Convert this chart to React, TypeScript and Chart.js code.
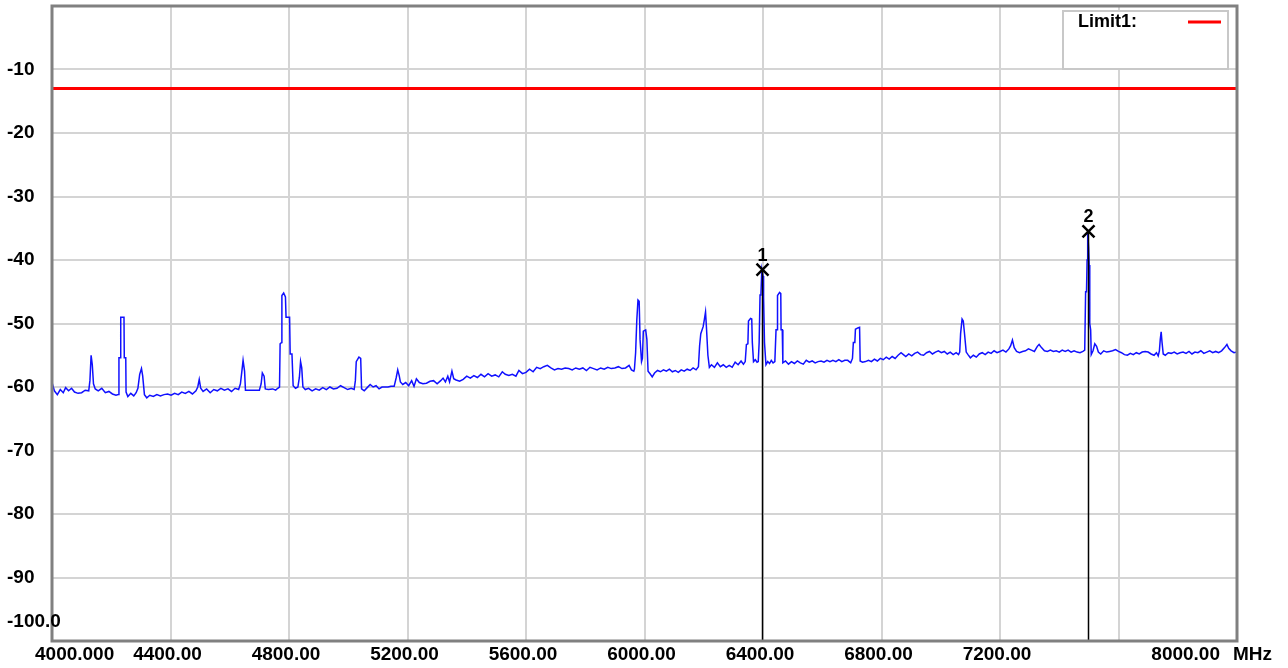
import { useEffect, useRef } from 'react';
import { Chart, registerables } from 'chart.js';

Chart.register(...registerables);

// Spectrum trace: [frequency MHz, level dB]
const trace: [number, number][] = [
  [4000, -59.3], [4008, -60.6], [4018, -61.2], [4028, -60.4], [4038, -60.9], [4046, -60.1], [4056, -60.6], [4066, -60.2], [4076, -60.8], [4088, -61.0], [4100, -60.9], [4112, -60.5], [4124, -60.6],
  [4128, -59.0], [4132, -55.0], [4136, -56.5], [4140, -59.5], [4146, -60.3],
  [4156, -60.6], [4168, -60.2], [4180, -60.9], [4192, -60.7], [4204, -61.1], [4216, -61.3],
  [4224, -61.2], [4226, -55.4], [4231, -55.4], [4232, -49.0], [4243, -49.0], [4244, -55.4], [4249, -55.4], [4250, -60.8],
  [4256, -61.5], [4266, -61.0], [4276, -61.4], [4284, -60.9],
  [4290, -60.2], [4296, -58.0], [4302, -57.1], [4306, -58.2], [4312, -61.2],
  [4320, -61.7], [4330, -61.3], [4342, -61.5], [4354, -61.2], [4366, -61.4], [4378, -61.2], [4390, -61.1], [4402, -61.3], [4414, -61.0], [4426, -61.2], [4438, -60.8], [4450, -61.0], [4462, -60.7], [4474, -61.1], [4486, -60.6],
  [4492, -60.0], [4497, -58.8], [4502, -60.2],
  [4510, -60.7], [4522, -60.3], [4534, -60.9], [4546, -60.4], [4558, -60.6], [4570, -60.2], [4582, -60.5], [4594, -60.3], [4606, -60.7], [4618, -60.2], [4630, -60.4],
  [4636, -59.5], [4640, -57.9], [4645, -55.8], [4650, -57.5], [4653, -60.5], [4700, -60.5],
  [4706, -59.5], [4710, -57.8], [4716, -58.3], [4720, -60.3],
  [4730, -60.4], [4745, -60.3], [4755, -60.5], [4762, -60.2],
  [4768, -60.0], [4770, -53.2], [4775, -53.0], [4776, -45.6], [4782, -45.2], [4788, -45.8], [4790, -49.0], [4802, -49.0], [4804, -54.8], [4810, -54.8], [4814, -59.8],
  [4822, -60.2], [4830, -60.0],
  [4835, -58.5], [4839, -56.0], [4843, -57.0], [4847, -60.0],
  [4855, -60.4], [4866, -60.2], [4878, -60.6], [4890, -60.3], [4902, -60.5], [4914, -60.1], [4926, -60.4], [4938, -60.0], [4950, -60.3], [4962, -60.2], [4974, -59.8], [4986, -60.1], [4998, -60.4], [5010, -60.2], [5020, -60.4],
  [5024, -59.0], [5027, -56.0], [5032, -55.6], [5036, -55.3], [5042, -55.5], [5045, -60.3],
  [5054, -60.6], [5064, -60.1], [5074, -59.6], [5084, -60.0], [5094, -59.8], [5104, -60.3], [5114, -60.0], [5124, -60.0], [5134, -60.0], [5144, -59.9], [5155, -59.9],
  [5162, -58.5], [5167, -57.3], [5172, -58.2], [5176, -59.2],
  [5184, -59.6], [5194, -59.3], [5204, -59.8], [5214, -59.0], [5222, -59.9], [5230, -58.7], [5240, -59.3], [5252, -59.5], [5264, -59.4], [5276, -59.1], [5288, -59.0], [5300, -59.5], [5312, -59.0], [5320, -58.6], [5328, -59.2], [5336, -58.3], [5342, -59.2], [5350, -57.5], [5356, -58.7], [5364, -58.9], [5376, -59.1], [5388, -58.8],
  [5400, -58.3], [5412, -58.6], [5424, -58.2], [5436, -58.5], [5448, -58.0], [5460, -58.4], [5472, -57.9], [5484, -58.3], [5496, -58.1], [5508, -58.4], [5520, -57.6], [5530, -58.0], [5542, -58.2], [5554, -58.0], [5566, -58.3], [5576, -57.4], [5588, -57.9],
  [5600, -57.7], [5612, -57.2], [5624, -57.6], [5636, -56.9], [5648, -57.1], [5660, -56.8], [5672, -56.6], [5684, -57.0], [5696, -57.3], [5708, -57.1], [5720, -57.2], [5732, -57.0], [5744, -57.1], [5756, -57.3], [5768, -57.0], [5780, -57.2], [5792, -57.0],
  [5804, -57.4], [5816, -56.9], [5828, -57.1], [5840, -57.3], [5852, -57.0], [5864, -57.2], [5876, -56.9], [5888, -57.1], [5900, -57.0], [5912, -56.8], [5924, -57.1], [5936, -57.0], [5948, -56.6], [5956, -57.3], [5964, -57.5],
  [5966, -57.2], [5970, -54.6], [5974, -49.5], [5978, -46.3], [5982, -46.5], [5985, -52.5], [5990, -56.0], [5993, -55.5], [5996, -51.2], [6004, -51.0], [6008, -52.5], [6012, -57.5], [6020, -58.0], [6026, -58.4],
  [6034, -57.8], [6044, -57.4], [6054, -57.6], [6064, -57.3], [6074, -57.5], [6084, -57.2], [6094, -57.6], [6104, -57.4], [6114, -57.7], [6124, -57.3], [6134, -57.5], [6144, -57.2], [6154, -57.4], [6164, -57.0], [6174, -57.3],
  [6182, -56.8], [6186, -53.5], [6190, -51.6], [6198, -50.5], [6202, -49.4], [6206, -48.2], [6209, -50.5], [6214, -55.0], [6219, -56.9],
  [6226, -56.5], [6236, -56.9], [6246, -56.2], [6256, -56.8], [6266, -56.5], [6276, -56.9], [6286, -56.6], [6296, -56.9], [6306, -56.1], [6316, -56.5], [6326, -55.9], [6334, -56.4],
  [6340, -56.0], [6344, -53.3], [6349, -53.2], [6351, -49.6], [6358, -49.2], [6362, -49.3], [6364, -53.0], [6368, -56.0],
  [6374, -55.7], [6380, -56.1],
  [6384, -56.0], [6387, -53.0], [6390, -45.5], [6393, -45.3], [6396, -41.5], [6400, -42.5], [6402, -46.0], [6405, -53.0], [6410, -56.5],
  [6416, -56.0], [6422, -56.3], [6428, -55.8], [6434, -56.2],
  [6440, -56.0], [6444, -51.0], [6448, -51.0], [6449, -45.6], [6456, -45.1], [6460, -45.3], [6461, -51.0], [6465, -51.0], [6467, -56.2],
  [6476, -55.9], [6486, -56.4], [6496, -56.0], [6506, -56.3], [6516, -55.9], [6526, -56.2], [6536, -56.4], [6546, -55.8], [6556, -56.1], [6566, -55.9], [6576, -56.2], [6586, -56.0], [6596, -55.9], [6606, -56.1], [6616, -55.8], [6626, -56.0], [6636, -55.8], [6646, -56.0], [6656, -55.7], [6666, -56.0], [6676, -55.8], [6686, -55.8], [6696, -56.2],
  [6702, -55.5], [6705, -53.0], [6710, -53.0], [6712, -50.9], [6720, -50.7], [6726, -50.6], [6728, -55.9],
  [6736, -56.1], [6746, -56.0], [6756, -55.8], [6766, -56.0], [6776, -55.6], [6786, -55.9], [6796, -55.5], [6806, -55.7], [6816, -55.3], [6826, -55.6], [6836, -55.2], [6846, -55.5], [6856, -55.0], [6866, -54.6], [6874, -54.9], [6882, -55.2], [6892, -54.8],
  [6902, -55.1], [6912, -54.7], [6922, -54.5], [6932, -54.9], [6942, -55.0], [6952, -54.6], [6962, -54.4], [6972, -54.8], [6982, -54.5], [6992, -54.3], [7002, -54.6], [7012, -54.4], [7022, -54.8], [7032, -54.5], [7042, -54.9], [7052, -54.6], [7060, -54.9],
  [7064, -54.5], [7067, -51.6], [7072, -49.3], [7076, -49.6], [7080, -51.5], [7086, -54.5], [7092, -54.9],
  [7100, -55.4], [7110, -55.0], [7120, -55.3], [7130, -54.8], [7140, -54.6], [7150, -54.9], [7160, -54.5], [7170, -54.7], [7180, -54.3], [7190, -54.6], [7200, -54.4], [7210, -54.2], [7220, -54.5], [7230, -54.0], [7236, -53.5], [7242, -52.6], [7248, -53.8],
  [7256, -54.4], [7266, -54.6], [7276, -54.4], [7286, -54.3], [7296, -54.0], [7306, -54.2], [7316, -54.4], [7326, -53.6], [7332, -53.3], [7340, -53.8], [7350, -54.3], [7360, -54.4], [7370, -54.2], [7380, -54.4], [7390, -54.3],
  [7400, -54.5], [7410, -54.2], [7420, -54.4], [7430, -54.2], [7440, -54.5], [7450, -54.3], [7460, -54.5], [7470, -54.6], [7480, -54.4],
  [7486, -54.2], [7489, -45.0], [7492, -45.0], [7494, -40.0], [7496, -35.5], [7499, -38.0], [7501, -40.8], [7503, -50.0], [7506, -51.0], [7508, -54.9],
  [7514, -54.3], [7520, -53.2], [7526, -53.6], [7532, -54.5], [7540, -54.8], [7550, -54.3], [7560, -54.5], [7570, -54.4], [7580, -54.3], [7590, -54.1],
  [7600, -54.4], [7610, -54.6], [7620, -54.9], [7630, -55.0], [7640, -54.7], [7650, -54.9], [7660, -54.6], [7670, -54.8], [7680, -54.5], [7690, -54.4], [7700, -54.5], [7710, -54.8], [7720, -55.0], [7728, -54.6], [7734, -55.1], [7738, -54.3],
  [7741, -52.5], [7744, -51.3], [7747, -53.0], [7751, -54.8],
  [7758, -55.0], [7768, -54.6], [7778, -54.7], [7788, -54.5], [7798, -54.8], [7808, -54.6], [7818, -54.5], [7828, -54.7], [7838, -54.4], [7848, -54.8], [7858, -54.5], [7868, -54.6], [7878, -54.3], [7888, -54.7], [7898, -54.5],
  [7908, -54.3], [7918, -54.6], [7928, -54.4], [7938, -54.6], [7948, -54.3], [7958, -53.8], [7966, -53.3], [7972, -53.9], [7980, -54.3], [7990, -54.6], [8000, -54.5],
];

const xMin = 4000;
const xMax = 8000;
const xTicks = [4000, 4400, 4800, 5200, 5600, 6000, 6400, 6800, 7200, 7600, 8000];
const xTickLabels = ['4000.000', '4400.00', '4800.00', '5200.00', '5600.00', '6000.00', '6400.00', '6800.00', '7200.00', '', '8000.00'];
const xUnit = 'MHz';

const yMin = -100;
const yMax = 0;
const yTicks = [-10, -20, -30, -40, -50, -60, -70, -80, -90, -100];
const yTickLabels = ['-10', '-20', '-30', '-40', '-50', '-60', '-70', '-80', '-90', '-100.0'];

const limitName = 'Limit1:';
const limitLevel = -13;

const markerNames = ['1', '2'];
const markerFreqs = [6396, 7496];
const markerLevels = [-41.5, -35.5];

const FONT = '"Liberation Sans", Arial, sans-serif';

const overlayPlugin = {
  id: 'overlay',
  afterDatasetsDraw(chart: any) {
    const { ctx, chartArea: a, scales } = chart;
    const x = scales.x;
    const y = scales.y;
    ctx.save();

    // markers
    markerFreqs.forEach((f, i) => {
      const px = Math.round(x.getPixelForValue(f)) + 0.5;
      const py = y.getPixelForValue(markerLevels[i]);
      ctx.strokeStyle = '#000';
      ctx.lineWidth = 1.5;
      ctx.beginPath();
      ctx.moveTo(px, py);
      ctx.lineTo(px, a.bottom);
      ctx.stroke();
      const s = 6;
      ctx.lineWidth = 2.5;
      ctx.beginPath();
      ctx.moveTo(px - s, py - s);
      ctx.lineTo(px + s, py + s);
      ctx.moveTo(px + s, py - s);
      ctx.lineTo(px - s, py + s);
      ctx.stroke();
      ctx.fillStyle = '#000';
      ctx.font = `bold 18px ${FONT}`;
      ctx.textAlign = 'center';
      ctx.textBaseline = 'alphabetic';
      ctx.fillText(markerNames[i], px, py - 9);
    });

    // frame
    ctx.strokeStyle = '#808080';
    ctx.lineWidth = 3;
    ctx.strokeRect(a.left, a.top, a.right - a.left, a.bottom - a.top);

    // legend box
    const bx = a.right - 174;
    const by = a.top + 5;
    const bw = 165;
    const bh = 58;
    ctx.fillStyle = '#fff';
    ctx.fillRect(bx, by, bw, bh);
    ctx.strokeStyle = '#c8c8c8';
    ctx.lineWidth = 2;
    ctx.strokeRect(bx, by, bw, bh);
    ctx.fillStyle = '#000';
    ctx.font = `bold 18px ${FONT}`;
    ctx.textAlign = 'left';
    ctx.textBaseline = 'middle';
    ctx.fillText(limitName, bx + 15, by + 11);
    ctx.strokeStyle = '#ff0000';
    ctx.lineWidth = 3;
    ctx.beginPath();
    ctx.moveTo(bx + 125, by + 11);
    ctx.lineTo(bx + 158, by + 11);
    ctx.stroke();

    // y tick labels
    ctx.fillStyle = '#000';
    ctx.font = `bold 19px ${FONT}`;
    ctx.textAlign = 'left';
    ctx.textBaseline = 'middle';
    yTicks.forEach((v, i) => {
      let py = y.getPixelForValue(v);
      if (v === yMin) py -= 19;
      ctx.fillText(yTickLabels[i], 7, py);
    });

    // x tick labels
    ctx.textAlign = 'center';
    const ly = a.bottom + 14;
    xTicks.forEach((v, i) => {
      const lbl = xTickLabels[i];
      if (!lbl) return;
      const px = x.getPixelForValue(v);
      if (v === xMin) {
        ctx.textAlign = 'left';
        ctx.fillText(lbl, px - 17, ly);
        ctx.textAlign = 'center';
        return;
      }
      if (v === xMax) {
        ctx.textAlign = 'right';
        ctx.fillText(lbl, px - 17, ly);
        ctx.textAlign = 'center';
        return;
      }
      ctx.fillText(lbl, px - 3, ly);
    });
    ctx.textAlign = 'left';
    ctx.fillText(xUnit, a.right - 4, ly);

    ctx.restore();
  },
};

export default function App() {
  const ref = useRef<HTMLCanvasElement>(null);

  useEffect(() => {
    if (!ref.current) return;
    const chart = new Chart(ref.current, {
      type: 'line',
      data: {
        datasets: [
          {
            label: 'Trace',
            data: trace.map(([f, v]) => ({ x: f, y: v })),
            borderColor: '#1010ff',
            borderWidth: 1.5,
            pointRadius: 0,
            tension: 0,
            order: 2,
          },
          {
            label: limitName,
            data: [
              { x: xMin, y: limitLevel },
              { x: xMax, y: limitLevel },
            ],
            borderColor: '#ff0000',
            borderWidth: 3,
            pointRadius: 0,
            order: 1,
          },
        ],
      },
      options: {
        animation: false,
        responsive: false,
        devicePixelRatio: 1,
        layout: { padding: { top: 6, right: 51, left: 0, bottom: 0 } },
        plugins: { legend: { display: false }, tooltip: { enabled: false } },
        scales: {
          x: {
            type: 'linear',
            min: xMin,
            max: xMax,
            afterBuildTicks: (scale: any) => {
              scale.ticks = xTicks.map((v) => ({ value: v }));
            },
            afterFit: (scale: any) => {
              scale.height = 27;
            },
            ticks: { display: false },
            grid: { color: '#d4d4d4', lineWidth: 2, drawTicks: false },
            border: { display: false },
          },
          y: {
            min: yMin,
            max: yMax,
            ticks: { display: false, stepSize: 10 },
            afterFit: (scale: any) => {
              scale.width = 52;
            },
            grid: { color: '#d4d4d4', lineWidth: 2, drawTicks: false },
            border: { display: false },
          },
        },
      },
      plugins: [overlayPlugin],
    });
    return () => chart.destroy();
  }, []);

  return (
    <div style={{ position: 'fixed', left: 0, top: 0, width: 1288, height: 668, background: '#fff' }}>
      <canvas ref={ref} width={1288} height={668} style={{ display: 'block' }} />
    </div>
  );
}
